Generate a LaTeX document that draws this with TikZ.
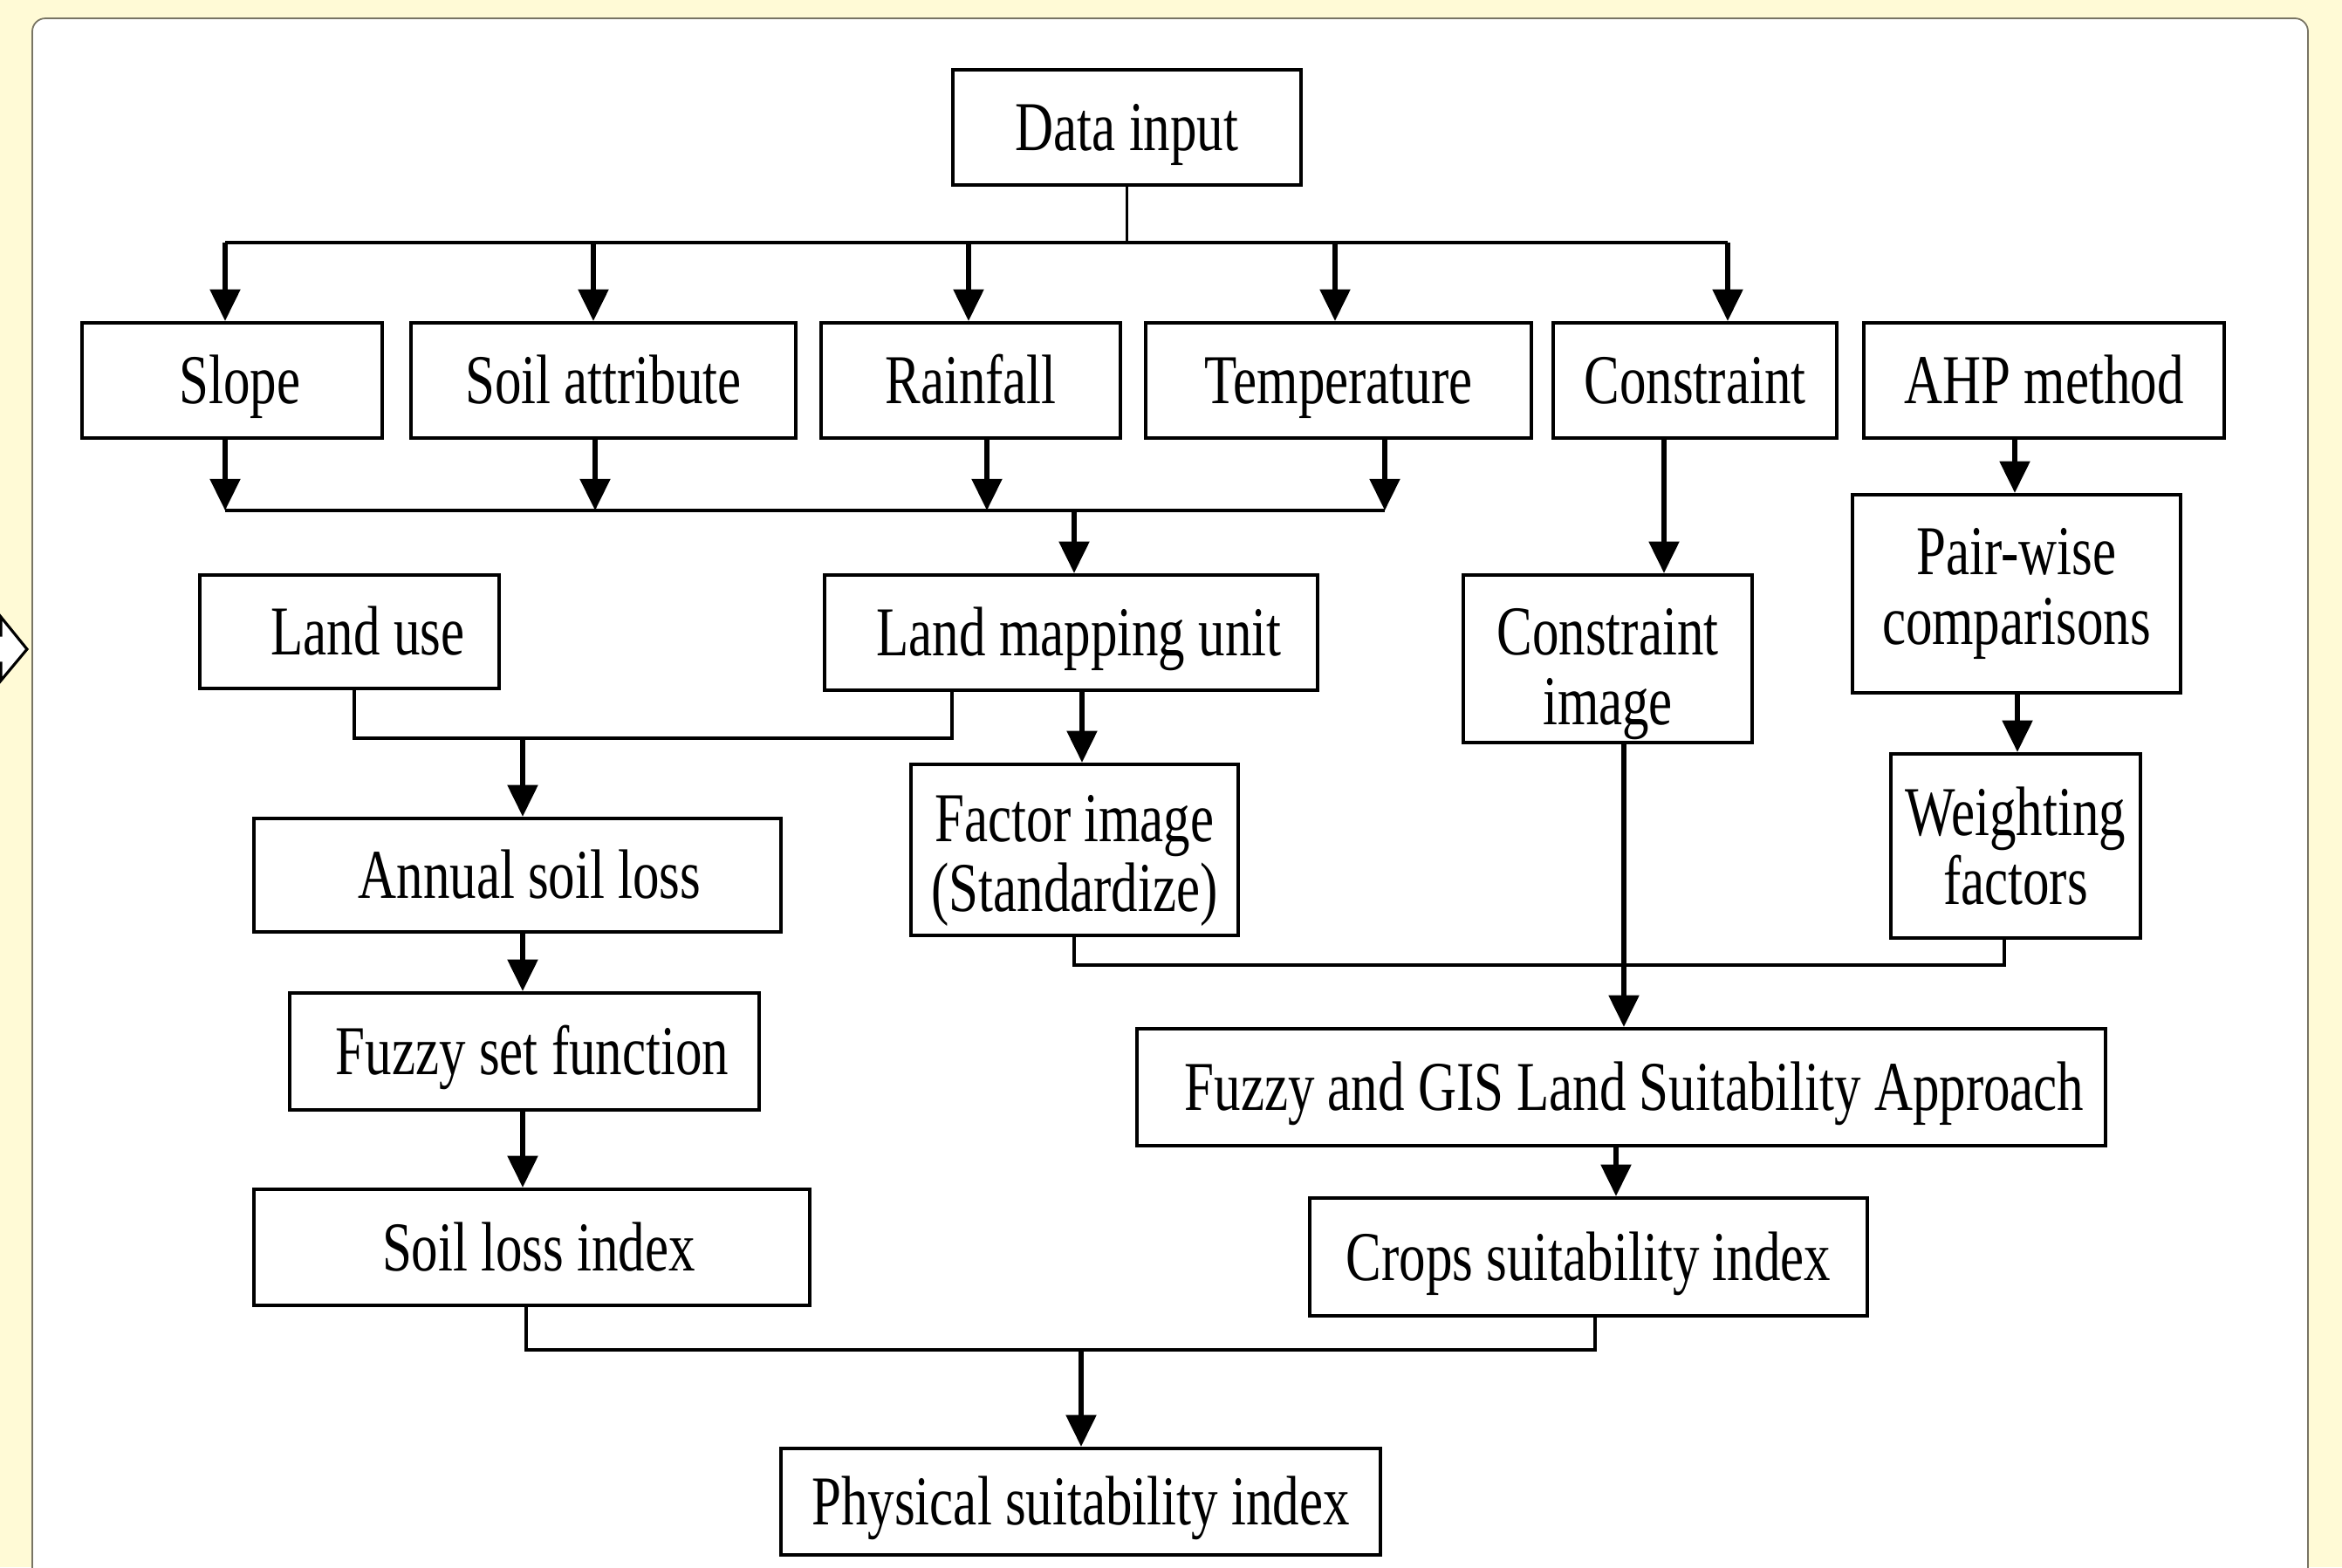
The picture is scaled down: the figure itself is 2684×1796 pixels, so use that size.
\documentclass[tikz,border=0pt]{standalone}
\usepackage{fontspec}
\setmainfont{Liberation Serif}[FakeStretch=0.76]
\usetikzlibrary{arrows.meta}
\definecolor{bgyel}{RGB}{255,250,214}
\definecolor{panelline}{RGB}{120,116,100}
\begin{document}
\begin{tikzpicture}[x=0.01cm,y=-0.01cm,
  box/.style={draw=black, line width=1.2pt, fill=white, inner sep=0pt,
    font=\fontsize{22.8pt}{22.6pt}\selectfont, align=center},
  one/.style={text height=0.53cm, text depth=0pt},
  conn/.style={line width=1.1pt},
  arr/.style={line width=1.45pt, -{Triangle[width=9.7pt,length=10.3pt]}}]
\useasboundingbox (0,0) rectangle (2684,1796);
\clip (0,0) rectangle (2684,1796);
\fill[bgyel] (0,0) rectangle (2684,1796);
\draw[panelline, line width=0.5pt, fill=white, rounded corners=0.15cm] (37,21) rectangle (2645,1850);
\draw[black, line width=0.9pt, fill=white] (-20,728) -- (1,728) -- (1,707) -- (31,744) -- (1,780) -- (1,760) -- (-20,760) -- cycle;

% boxes
\node[box,one,minimum width=3.99cm,minimum height=1.32cm] (datain) at (1291.5,146) {Data input};
\node[box,one,minimum width=3.44cm,minimum height=1.32cm] (slope) at (266,436) {\hspace*{0.18cm}Slope};
\node[box,one,minimum width=4.41cm,minimum height=1.32cm] (soil) at (691.5,436) {Soil attribute};
\node[box,one,minimum width=3.43cm,minimum height=1.32cm] (rain) at (1112.5,436) {Rainfall};
\node[box,one,minimum width=4.42cm,minimum height=1.32cm] (temp) at (1534,436) {Temperature};
\node[box,one,minimum width=3.25cm,minimum height=1.32cm] (cons) at (1942.5,436) {Constraint};
\node[box,one,minimum width=4.13cm,minimum height=1.32cm] (ahp) at (2342.5,436) {AHP method};
\node[box,one,minimum width=3.43cm,minimum height=1.30cm] (landuse) at (400.5,724) {\hspace*{0.42cm}Land use};
\node[box,one,minimum width=5.65cm,minimum height=1.32cm] (lmu) at (1227.5,725) {\hspace*{0.18cm}Land mapping unit};
\node[box,minimum width=3.31cm,minimum height=1.92cm] (cimg) at (1842.5,755) {\rule{0pt}{0.88cm}Constraint\\image};
\node[box,minimum width=3.76cm,minimum height=2.27cm] (pair) at (2311,680.5) {Pair-wise\\comparisons};
\node[box,minimum width=3.75cm,minimum height=1.96cm] (factor) at (1231.5,974) {\rule{0pt}{0.78cm}Factor image\\(Standardize)};
\node[box,minimum width=2.86cm,minimum height=2.11cm] (weight) at (2310,969.5) {Weighting\\factors};
\node[box,one,minimum width=6.04cm,minimum height=1.30cm] (annual) at (593,1003) {\hspace*{0.28cm}Annual soil loss};
\node[box,one,minimum width=5.38cm,minimum height=1.34cm] (fuzzyset) at (601,1205) {\hspace*{0.18cm}Fuzzy set function};
\node[box,one,minimum width=6.37cm,minimum height=1.33cm] (soilidx) at (609.5,1429.5) {\hspace*{0.16cm}Soil loss index};
\node[box,one,minimum width=11.10cm,minimum height=1.34cm] (fuzzygis) at (1858,1246) {\hspace*{0.3cm}Fuzzy and GIS Land Suitability Approach};
\node[box,one,minimum width=6.39cm,minimum height=1.35cm] (crops) at (1820.5,1440.5) {Crops suitability index};
\node[box,one,minimum width=6.87cm,minimum height=1.22cm] (phys) at (1238.5,1721) {Physical suitability index};

% top bus
\coordinate (t1) at (258,278);
\coordinate (t2) at (680,278);
\coordinate (t3) at (1110,278);
\coordinate (t4) at (1530,278);
\coordinate (t5) at (1980,278);
\draw[conn] (datain.south) -- (datain.south |- t1);
\draw[conn] (t1) -- (t5);
\draw[arr] (t1) -- (t1 |- slope.north);
\draw[arr] (t2) -- (t2 |- soil.north);
\draw[arr] (t3) -- (t3 |- rain.north);
\draw[arr] (t4) -- (t4 |- temp.north);
\draw[arr] (t5) -- (t5 |- cons.north);

% second bus
\coordinate (m1) at (258,585);
\coordinate (m2) at (682,585);
\coordinate (m3) at (1131,585);
\coordinate (m4) at (1587,585);
\coordinate (mj) at (1231,585);
\draw[arr] (slope.south -| m1) -- (m1);
\draw[arr] (soil.south -| m2) -- (m2);
\draw[arr] (rain.south -| m3) -- (m3);
\draw[arr] (temp.south -| m4) -- (m4);
\draw[conn] (m1) -- (m4);
\draw[arr] (mj) -- (mj |- lmu.north);

% land use join
\coordinate (lu) at (406,846);
\coordinate (lj) at (1091,846);
\coordinate (aj) at (599,846);
\draw[conn] (landuse.south -| lu) -- (lu) -- (lj) -- (lj |- lmu.south);
\draw[arr] (aj) -- (aj |- annual.north);

% lmu to factor
\coordinate (fx) at (1240,0);
\draw[arr] (lmu.south -| fx) -- (factor.north -| fx);

% constraint, AHP chain
\coordinate (kc) at (1907,0);
\draw[arr] (cons.south -| kc) -- (cimg.north -| kc);
\coordinate (ka) at (2309,0);
\draw[arr] (ahp.south -| ka) -- (pair.north -| ka);
\coordinate (kw) at (2312,0);
\draw[arr] (pair.south -| kw) -- (weight.north -| kw);

% factor & weight join
\coordinate (fy) at (1231,1106);
\coordinate (wy) at (2297,1106);
\draw[conn] (factor.south -| fy) -- (fy) -- (wy) -- (weight.south -| wy);

% constraint image to fuzzy GIS
\coordinate (kg) at (1861,0);
\draw[arr] (cimg.south -| kg) -- (fuzzygis.north -| kg);
\coordinate (kr) at (1852,0);
\draw[arr] (fuzzygis.south -| kr) -- (crops.north -| kr);

% left chain
\coordinate (ks) at (599,0);
\draw[arr] (annual.south -| ks) -- (fuzzyset.north -| ks);
\draw[arr] (fuzzyset.south -| ks) -- (soilidx.north -| ks);

% final join
\coordinate (sy) at (603,1547);
\coordinate (cy) at (1828,1547);
\coordinate (py) at (1239,1547);
\draw[conn] (soilidx.south -| sy) -- (sy) -- (cy) -- (crops.south -| cy);
\draw[arr] (py) -- (phys.north -| py);
\end{tikzpicture}
\end{document}
